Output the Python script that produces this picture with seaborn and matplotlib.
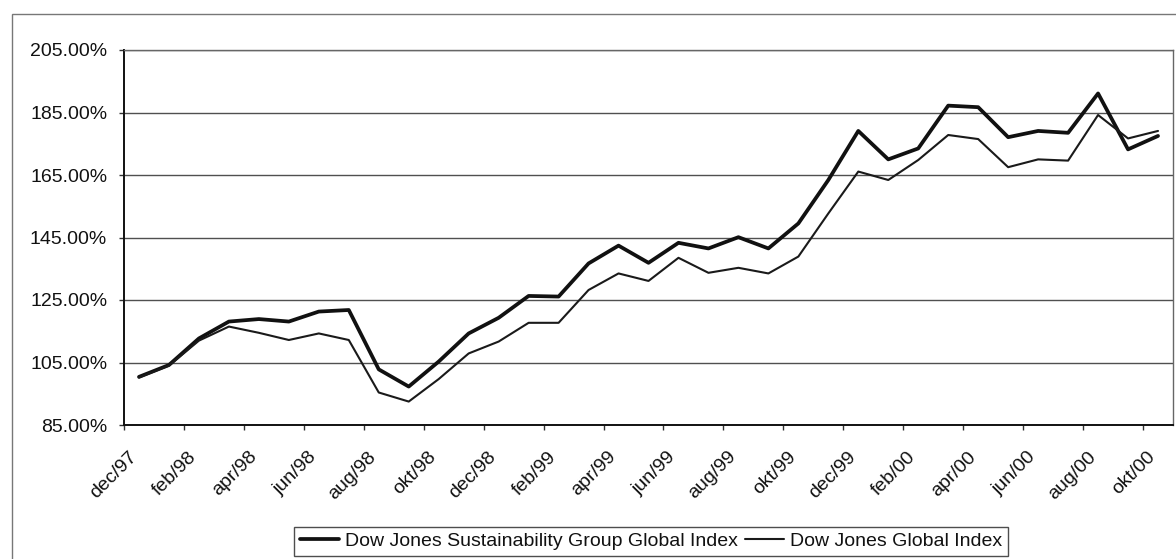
import numpy as np
import pandas as pd
import matplotlib
matplotlib.use("Agg")
import matplotlib.pyplot as plt
import matplotlib.transforms as mtransforms
import seaborn as sns
from matplotlib.ticker import FixedLocator, FuncFormatter
from matplotlib.patches import Rectangle

months = ['dec/97', 'jan/98', 'feb/98', 'mar/98', 'apr/98', 'mai/98', 'jun/98', 'jul/98',
          'aug/98', 'sep/98', 'okt/98', 'nov/98', 'dec/98', 'jan/99', 'feb/99', 'mar/99',
          'apr/99', 'mai/99', 'jun/99', 'jul/99', 'aug/99', 'sep/99', 'okt/99', 'nov/99',
          'dec/99', 'jan/00', 'feb/00', 'mar/00', 'apr/00', 'mai/00', 'jun/00', 'jul/00',
          'aug/00', 'sep/00', 'okt/00']

djsgi = [100.4, 104.2, 112.7, 118.1, 118.9, 118.1, 121.3, 121.8, 102.8, 97.3,
         105.3, 114.3, 119.3, 126.3, 126.1, 136.7, 142.4, 136.9, 143.3, 141.5,
         145.1, 141.5, 149.5, 163.4, 179.1, 170.0, 173.5, 187.2, 186.7, 177.1,
         179.1, 178.5, 191.1, 173.2, 177.5]

djgi = [100.2, 104.0, 112.0, 116.5, 114.5, 112.2, 114.3, 112.2, 95.4, 92.5,
        99.7, 107.9, 111.7, 117.7, 117.7, 128.2, 133.5, 131.1, 138.5, 133.7,
        135.3, 133.5, 138.9, 152.7, 166.1, 163.4, 169.8, 177.8, 176.5, 167.5,
        170.0, 169.6, 184.2, 176.7, 179.1]

series_names = ['Dow Jones Sustainability Group Global Index', 'Dow Jones Global Index']
y_ticks = [85, 105, 125, 145, 165, 185, 205]

sns.set_theme(style="white")
plt.rcParams['font.family'] = ['Liberation Sans', 'DejaVu Sans']

W, H = 1176, 559
fig = plt.figure(figsize=(W / 100, H / 100), dpi=100)
fig.patch.set_facecolor('white')
ax = fig.add_axes([124 / W, 1 - 425 / H, (1173 - 124) / W, (425 - 50) / H])

df = pd.DataFrame({'idx': np.arange(len(months)), 'month': months,
                   series_names[0]: djsgi, series_names[1]: djgi})
long = df.melt(id_vars=['idx', 'month'], value_vars=series_names,
               var_name='series', value_name='value')

sns.lineplot(data=long, x='idx', y='value', hue='series', size='series',
             hue_order=series_names, size_order=series_names,
             sizes={series_names[0]: 2.7, series_names[1]: 1.5},
             palette={series_names[0]: '#111111', series_names[1]: '#1a1a1a'},
             ax=ax, legend=False)

# axes styling
ax.set_xlim(-0.5, len(months) - 0.5)
ax.set_ylim(85, 205)
ax.set_yticks(y_ticks)
ax.yaxis.set_major_formatter(FuncFormatter(lambda v, p: f'{v:.2f}%'))
ax.yaxis.grid(True, color='#505050', linewidth=1.0)
ax.xaxis.grid(False)
ax.set_axisbelow(True)
ax.set_xlabel('')
ax.set_ylabel('')

ax.tick_params(axis='y', which='major', length=3.6, width=1, color='#333333',
               direction='out', pad=8.5, labelsize=14, labelcolor='#111111', left=True)

# category boundaries as tick marks, labels on every second category
ax.xaxis.set_major_locator(FixedLocator(np.arange(-0.5, len(months) - 1, 2)))
ax.xaxis.set_major_formatter(FuncFormatter(lambda v, p: ''))
ax.tick_params(axis='x', which='major', length=3.6, width=1, color='#333333',
               direction='out', bottom=True)
ax.set_xticks(np.arange(0, len(months), 2), minor=True)
ax.set_xticklabels(months[::2], minor=True, rotation=45, ha='right', va='center',
                   rotation_mode='anchor', fontsize=14, color='#111111')
ax.tick_params(axis='x', which='minor', length=0, pad=21)
shift = mtransforms.ScaledTranslation(-5 / 100, 0, fig.dpi_scale_trans)
for lbl in ax.get_xticklabels(minor=True):
    lbl.set_transform(lbl.get_transform() + shift)

for side in ['left', 'bottom']:
    ax.spines[side].set_color('#111111')
    ax.spines[side].set_linewidth(1.4)
for side in ['top', 'right']:
    ax.spines[side].set_color('#666666')
    ax.spines[side].set_linewidth(1.0)

# legend
handles = ax.get_lines()[:2]
leg = fig.legend(handles, series_names, loc='lower center',
                 bbox_to_anchor=(651 / W, 3 / H), ncol=2, frameon=True, fancybox=False,
                 edgecolor='#222222', fontsize=14, handlelength=2.0, handletextpad=0.3,
                 columnspacing=0.4, borderpad=0.3, borderaxespad=0)
leg.get_frame().set_linewidth(1.0)
for t in leg.get_texts():
    t.set_color('#111111')

# outer chart frame
fig.add_artist(Rectangle((12 / W, -0.1), 1.2, 1.1 - 14 / H, transform=fig.transFigure,
                         fill=False, edgecolor='#777777', linewidth=1.0))

fig.savefig('out.png', dpi=100, facecolor='white')
